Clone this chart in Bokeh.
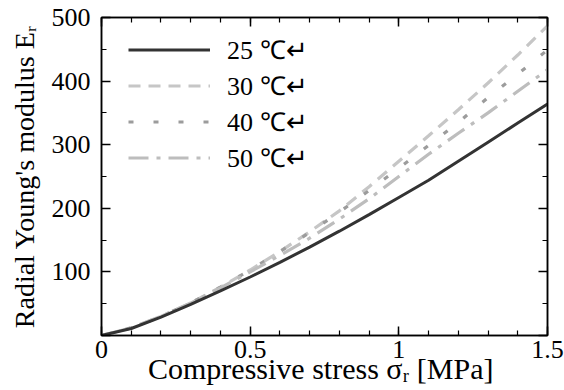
from bokeh.plotting import figure
from bokeh.models import (LinearAxis, SingleIntervalTicker, Legend, LegendItem, Range1d)
from bokeh.embed import file_html
from bokeh.resources import INLINE

# ---- data ----
stress = [0.0, 0.1, 0.2, 0.3, 0.4, 0.5, 0.6, 0.7, 0.8, 0.9, 1.0, 1.1, 1.2, 1.3, 1.4, 1.5]
e_25 = [0, 11, 29, 49, 70, 92, 115, 139, 164, 190, 217, 244, 274, 304, 334, 364]
e_30 = [0, 12, 30, 51, 76, 103, 132, 163, 196, 234, 274, 314, 355, 397, 441, 487]
e_40 = [0, 12, 30, 51, 76, 103, 132, 162, 194, 228, 263, 299, 335, 374, 411, 449]
e_50 = [0, 12, 30, 51, 75, 100, 126, 153, 183, 215, 250, 285, 318, 350, 384, 418]
labels = ["25 ℃↵", "30 ℃↵", "40 ℃↵", "50 ℃↵"]
x_ticks = [0, 0.5, 1, 1.5]
x_tick_labels = ["0", "0.5", "1", "1.5"]
y_ticks = [0, 100, 200, 300, 400, 500]
y_tick_labels = ["", "100", "200", "300", "400", "500"]
x_title = "Compressive stress σᵣ  [MPa]"
y_title = "Radial Young's modulus Eᵣ"

FONT = "Liberation Serif"

p = figure(width=564, height=390, output_backend="svg", toolbar_location=None,
           x_range=Range1d(0, 1.5), y_range=Range1d(0, 500),
           min_border_left=101, min_border_right=17, min_border_top=17, min_border_bottom=55,
           x_axis_type=None, y_axis_type=None)
p.xgrid.visible = False
p.ygrid.visible = False
p.outline_line_color = "black"
p.outline_line_width = 1.5
p.background_fill_color = "white"
p.border_fill_color = "white"

def style(ax):
    ax.axis_line_color = "black"
    ax.axis_line_width = 1.5
    ax.major_tick_line_color = "black"
    ax.major_tick_line_width = 1.5
    ax.minor_tick_line_color = "black"
    ax.minor_tick_line_width = 1.2
    ax.major_tick_in = 9
    ax.major_tick_out = 0
    ax.minor_tick_in = 5
    ax.minor_tick_out = 0
    ax.major_label_text_font = FONT
    ax.major_label_text_font_size = "26px"
    ax.major_label_text_font_style = "normal"
    ax.major_label_text_color = "black"
    ax.axis_label_text_font = FONT
    ax.axis_label_text_font_size = "28px"
    ax.axis_label_text_font_style = "normal"
    ax.axis_label_text_color = "black"

xt = lambda: SingleIntervalTicker(interval=0.5, num_minor_ticks=5)
yt = lambda: SingleIntervalTicker(interval=100, num_minor_ticks=2)

xb = LinearAxis(ticker=xt(), axis_label=x_title)
style(xb)
xb.axis_label_text_font_size = "30px"
xb.major_label_standoff = 5
xb.axis_label_standoff = -9
xb.major_label_overrides = dict(zip(x_ticks, x_tick_labels))
p.add_layout(xb, "below")

yl = LinearAxis(ticker=yt(), axis_label=y_title)
style(yl)
yl.major_label_standoff = 11
yl.axis_label_standoff = 9
yl.major_label_overrides = dict(zip(y_ticks, y_tick_labels))
p.add_layout(yl, "left")

xa = LinearAxis(ticker=xt())
style(xa)
xa.major_label_standoff = 0
xa.major_label_overrides = {v: "" for v in x_ticks}
p.add_layout(xa, "above")
yr = LinearAxis(ticker=yt())
style(yr)
yr.major_label_standoff = 0
yr.major_label_overrides = {v: "" for v in y_ticks}
p.add_layout(yr, "right")

r30 = p.line(stress, e_30, line_color="#c6c6c6", line_width=3.2, line_dash="12 8")
r40 = p.line(stress, e_40, line_color="#9c9c9c", line_width=3.2, line_dash="5 20")
r50 = p.line(stress, e_50, line_color="#bdbdbd", line_width=3.2, line_dash="20 8 4 8")
r25 = p.line(stress, e_25, line_color="#333333", line_width=3.0)

legend = Legend(items=[LegendItem(label=labels[0], renderers=[r25]),
                       LegendItem(label=labels[1], renderers=[r30]),
                       LegendItem(label=labels[2], renderers=[r40]),
                       LegendItem(label=labels[3], renderers=[r50])],
                location=(27, 160), orientation="vertical")
legend.border_line_alpha = 0
legend.background_fill_alpha = 0
legend.padding = 0
legend.margin = 0
legend.spacing = 0
legend.glyph_width = 82
legend.glyph_height = 33
legend.label_height = 33
legend.label_standoff = 17
legend.label_text_font = FONT
legend.label_text_font_size = "26px"
legend.label_text_font_style = "normal"
legend.label_text_color = "black"
p.add_layout(legend)

open("out.html", "w").write(file_html(p, INLINE))
